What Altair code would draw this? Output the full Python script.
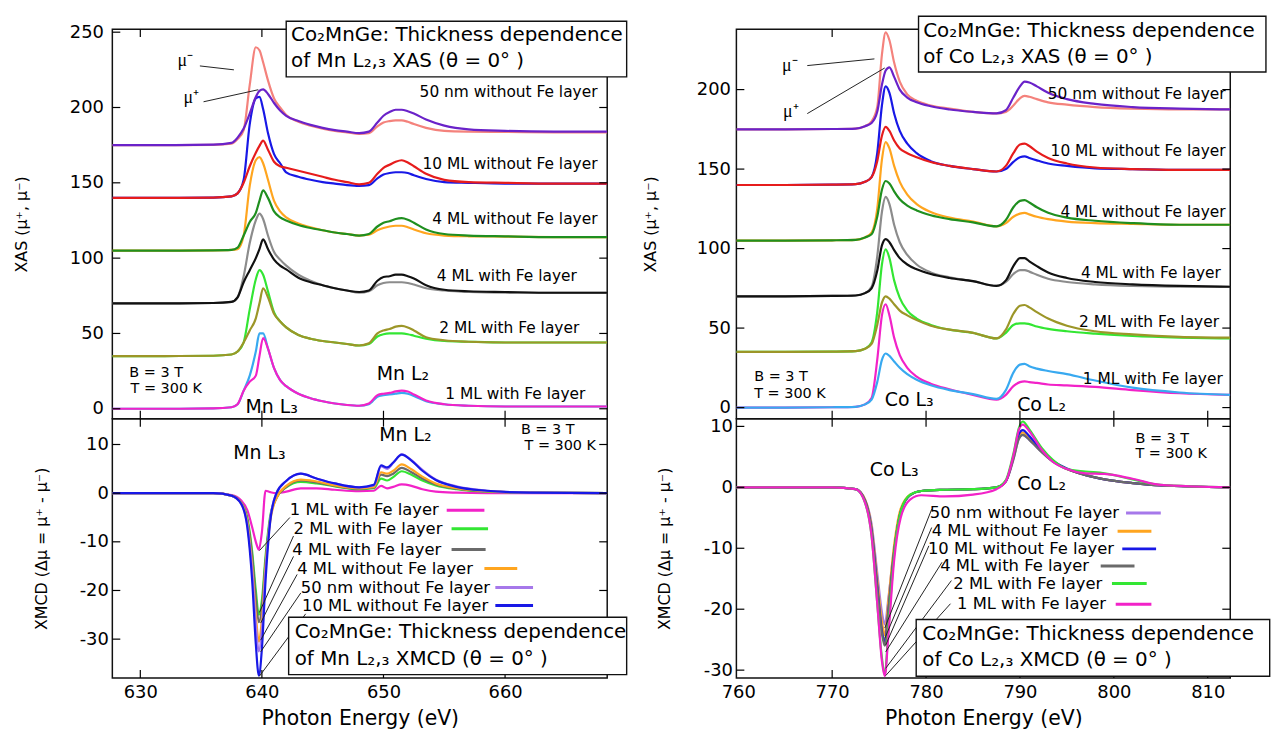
import altair as alt
import pandas as pd

FONT = "DejaVu Sans"

# ---------------- Mn L2,3 XAS (top left) ----------------
E_MN = [627.7, 632, 636, 637.5, 638.0, 638.5, 639.0, 639.5, 639.8, 640.1, 640.5, 641.0, 641.5, 642.0,
        643.0, 644.0, 645.0, 646.0, 647.0, 648.0, 648.8, 649.5, 650.0, 650.5, 651.0, 651.5, 652.0,
        652.5, 653.5, 655.0, 657.0, 660.0, 664.0, 668.4]
MN_SALMON = [175, 175, 175.2, 176, 179, 185, 215, 240, 238, 230, 218, 206, 200, 195, 190.5, 188, 186, 184.5,
             183.5, 182.5, 183, 187.5, 190, 191, 191.5, 191.5, 190.5, 189, 186.5, 184.5, 184, 183.8, 183.5, 183.5]
MN_PURPLE = [175, 175, 175.3, 176.5, 180, 186, 196, 207, 211, 212, 209, 203, 198, 194.5, 191, 188.5, 186.5, 185,
             184, 183, 184, 190, 194.5, 197, 198.5, 198.5, 197.5, 196, 192, 188, 185.5, 184.5, 184, 184]
MN_BLUE = [140, 140, 140.2, 141, 143, 152, 189, 206, 207, 199, 183, 169, 163, 157, 154, 152, 150.5, 149.5,
           148.5, 148, 148.5, 153, 155.5, 156.5, 157, 157, 156.5, 155, 152.5, 150.5, 150, 149.5, 149.5, 149.5]
MN_RED = [140, 140, 140.2, 141, 143, 150, 161, 170, 174.5, 178, 172, 164, 161, 160, 158, 156, 154, 152,
          150.5, 149, 150, 156, 160, 162, 164, 165, 163.5, 161, 156, 152, 150.5, 150, 149.5, 149.5]
MN_ORANGE = [105, 105, 105.2, 105.5, 106, 115, 148, 165, 167, 163, 152, 138, 131, 127, 123, 120.5, 118.5, 117,
             116, 115, 115.5, 118.5, 120, 121, 121.5, 121.5, 120.5, 119, 116.5, 115, 114.5, 114.3, 114, 114]
MN_DGREEN = [105, 105, 105.2, 105.5, 107, 115, 124, 130, 138, 145, 140, 131, 127, 125, 122, 120, 118.5, 117,
             116, 115, 116, 121, 123.5, 124.5, 126, 126.5, 125.5, 123.5, 119, 116, 115, 114.5, 114, 114]
MN_GRAY = [70, 70, 70.2, 71, 74, 88, 110, 125, 129.5, 126, 115, 104, 99, 95, 89, 85, 82, 80,
           78.5, 77, 78, 82, 83.5, 84, 84, 84, 83.5, 82.5, 80, 78.5, 77.5, 77, 77, 77]
MN_BLACK = [70, 70, 70.2, 71, 74, 84, 92, 100, 106, 112.5, 106, 99, 95, 92.5, 87, 84, 82, 80,
            78.5, 77.5, 78.5, 85, 87.5, 88, 89, 89, 88, 86.5, 82, 79, 78, 77.5, 77, 77]
MN_LIME = [35, 35, 35.2, 36, 38, 44, 66, 86, 92, 89, 78, 64, 58, 54, 49, 46.5, 45, 44,
           43, 42, 43, 48, 49.5, 50, 50, 50, 49.5, 48.5, 46.5, 45, 44.5, 44, 44, 44]
MN_OLIVE = [35, 35, 35.2, 36, 38, 44, 52, 60, 70, 80, 74, 63, 58, 54, 49, 46.5, 45, 44,
            43, 42, 43.5, 50, 52, 53, 54.5, 55, 54, 52, 47.5, 45.5, 44.5, 44, 44, 44]
MN_CYAN = [0, 0, 0.2, 1, 3, 12, 22, 38, 50, 50, 40, 27, 19, 15, 10, 7, 5, 3.5,
           2.5, 2, 3, 8, 9, 9.5, 10, 10.5, 10, 8.5, 5, 3, 2, 1.5, 1.5, 1.5]
MN_MAGENTA = [0, 0, 0.2, 1, 3, 12, 18, 22, 35, 47, 40, 27, 19, 15, 10, 7, 5, 3.5,
              2.5, 2, 3.5, 9, 10, 10.5, 11.5, 12, 11.5, 9.5, 5.5, 3, 2, 1.5, 1.5, 1.5]

# ---------------- Co L2,3 XAS (top right) ----------------
E_CO = [759.8, 765, 770, 772.5, 773.5, 774.2, 774.8, 775.3, 775.7, 776.1, 776.6, 777.2, 778.0, 779.0,
        780.5, 782.5, 785, 787.5, 788.5, 789.3, 790.0, 790.5, 791.0, 791.8, 793.0, 795.0, 798.0,
        802.0, 807.0, 812.4]
CO_SALMON = [175, 175, 175.2, 175.5, 177, 180, 189, 222, 236, 231, 217, 205, 197, 193, 190, 188, 186, 185,
             186, 190, 194.5, 196, 195.5, 194, 192, 190.5, 189, 188, 187.5, 187.5]
CO_PURPLE = [175, 175, 175.2, 175.5, 177, 179, 186, 203, 212, 214, 208, 200, 195, 192, 189.5, 187.5, 186, 185,
             187, 195, 202, 205, 204.5, 202, 198, 194, 191, 189, 188, 187.5]
CO_BLUE = [140, 140, 140.2, 140.5, 142, 145, 160, 190, 202, 198, 185, 174, 166, 160, 155, 152, 150, 148.5,
           150, 154.5, 157.5, 158, 157, 155.5, 153.5, 152, 150.5, 150, 149.5, 149.5]
CO_RED = [140, 140, 140.2, 140.5, 142, 145, 155, 171, 176.5, 174, 168, 163, 160, 157.5, 154.5, 152, 150, 148.5,
          152, 160, 165.5, 166, 164.5, 161, 157, 153.5, 151, 150, 149.5, 149.5]
CO_ORANGE = [105, 105, 105.2, 105.5, 107, 110, 125, 156, 167, 163, 152, 142, 134, 128, 123, 119.5, 117, 114,
             116, 120, 122, 122.5, 121.5, 120, 118.5, 117, 116, 115.5, 115, 115]
CO_DGREEN = [105, 105, 105.2, 105.5, 107, 109, 120, 137, 142.5, 141, 136, 131, 127, 124, 121, 118.5, 116.5, 114,
             118, 126, 130, 130.5, 129, 126, 122.5, 119.5, 117.5, 116, 115, 115]
CO_GRAY = [70, 70, 70.2, 70.5, 72, 76, 95, 123, 132.5, 128, 115, 104, 96, 90, 85, 82, 79.5, 76.5,
           79, 84, 86.5, 86.5, 85.5, 83.5, 81, 79, 77.5, 76.5, 76, 76]
CO_BLACK = [70, 70, 70.2, 70.5, 72, 75, 86, 102, 106, 104, 99, 94, 90, 87, 84, 81.5, 79.5, 76.5,
            80, 89, 94, 94, 92, 89, 85, 81.5, 79, 77.5, 76.5, 76]
CO_LIME = [35, 35, 35.2, 35.5, 37, 41, 60, 90, 99.5, 94, 80, 69, 61, 56, 52, 49, 47, 43.5,
           47, 52, 53, 53, 52.5, 51, 49.5, 48, 46.5, 45, 44, 43.5]
CO_OLIVE = [35, 35, 35.2, 35.5, 37, 40, 52, 66, 70, 68.5, 65, 61, 58, 55, 51.5, 49, 47, 43.5,
            49, 59, 64, 64.5, 63, 60, 56, 51.5, 48, 46, 44.5, 44]
CO_MAGENTA = [0, 0, 0.2, 0.5, 2, 6, 30, 58, 65, 58, 44, 33, 25, 19.5, 15, 11.5, 8, 5,
              8, 13.5, 16, 16.5, 16, 15.5, 14.5, 14, 13, 11, 9, 8]
CO_CYAN = [0, 0, 0.2, 0.5, 2, 5, 16, 30, 34, 32.5, 29, 25, 21, 17.5, 14, 11, 8.5, 5.5,
           11, 22, 27, 27.5, 26, 24.5, 23, 21, 17, 12.5, 9.5, 8]

# ---------------- Mn XMCD (bottom left) ----------------
E_MNX = [627.7, 632, 636, 637.5, 638.3, 638.8, 639.2, 639.5, 639.75, 640.0, 640.3, 640.7, 641.2, 642.0,
         643.2, 644.5, 646, 648, 649.2, 649.8, 650.3, 650.8, 651.5, 652.3, 653.2, 654.3, 656, 658.5, 662, 668.4]
MNX_1ML = [0, 0, 0, -0.4, -1.5, -3.5, -7, -10, -11.6, -8, 0.5, 0.2, 0, 0.3, 1, 1, 0.7, 0.4, 0.5, 1.5,
           1, 1.3, 1.8, 1.5, 0.8, 0.3, 0.1, 0, 0, 0]
MNX_2ML = [0, 0, 0, -0.5, -2, -5, -12, -20, -25, -22, -13, -4.5, -0.9, 1.2, 2.3, 2, 1.4, 0.8, 1, 3,
           2.6, 3.3, 4.5, 3.8, 2.6, 1.6, 0.8, 0.3, 0.1, 0]
MNX_4MLW = [0, 0, 0, -0.5, -2, -5.5, -13, -21.5, -26.5, -23.5, -14, -5, -1, 1.3, 2.6, 2.2, 1.5, 0.9, 1.2, 3.8,
            3.5, 4, 5.2, 4.3, 3, 1.8, 0.9, 0.4, 0.1, 0]
MNX_4MLWO = [0, 0, 0, -0.5, -2, -6, -15, -25, -30.5, -26, -15, -5.5, -1, 1.5, 2.8, 2.4, 1.6, 1, 1.3, 4.3,
             4, 4.6, 5.9, 4.9, 3.4, 2, 1, 0.4, 0.1, 0]
MNX_50NM = [0, 0, 0, -0.5, -2.2, -6.5, -16, -27, -32.5, -28, -16, -5, 0, 2.5, 4, 3, 2, 1.2, 1.6, 5.5,
            5, 6.2, 8, 6.8, 4.8, 2.8, 1.4, 0.5, 0.1, 0]
MNX_10ML = [0, 0, 0, -0.5, -2.2, -7, -18, -31, -37.5, -32, -18, -5.5, 0, 2.5, 4, 3, 2, 1.2, 1.7, 5.7,
            5.3, 6.3, 7.9, 6.7, 4.6, 2.7, 1.3, 0.5, 0.1, 0]

# ---------------- Co XMCD (bottom right) ----------------
E_COX = [759.8, 765, 770, 772.5, 773.5, 774.2, 774.8, 775.3, 775.6, 776.0, 776.6, 777.3, 778.3, 779.5,
         782, 785, 787.5, 788.5, 789.3, 789.9, 790.3, 791.0, 792.3, 793.5, 795, 797, 799, 802, 805, 812.4]
COX_50NM = [0, 0, 0, -0.3, -2, -6, -14, -20.5, -22.5, -18, -10, -4, -1.3, -0.6, -0.4, -0.3, 0, 1, 4.5, 8,
            8.6, 7.8, 5.8, 4.2, 3, 2, 1.3, 0.7, 0.3, 0]
COX_4MLWO = [0, 0, 0, -0.3, -2, -6.5, -15, -22, -24.3, -18.5, -9.5, -3.5, -1.2, -0.6, -0.4, -0.3, 0, 1, 4.8, 8.3,
             9, 8, 5.9, 4.3, 3, 2, 1.3, 0.7, 0.3, 0]
COX_10ML = [0, 0, 0, -0.3, -2.2, -7, -16, -23.5, -25.5, -20, -10.5, -4, -1.3, -0.6, -0.4, -0.3, 0, 1, 5, 8.8,
            9.4, 8.4, 6, 4.4, 3.1, 2, 1.3, 0.7, 0.3, 0]
COX_4MLW = [0, 0, 0, -0.3, -2.2, -7, -16.5, -24, -26, -20, -10.5, -4, -1.3, -0.6, -0.4, -0.3, 0, 1, 4.6, 8,
            8.6, 7.8, 5.8, 4.2, 3, 2, 1.3, 0.7, 0.3, 0]
COX_2ML = [0, 0, 0, -0.3, -2.5, -8, -19, -28, -30.8, -23, -11, -4, -1.2, -0.6, -0.4, -0.3, 0, 1.2, 5.5, 9.8,
           10.8, 9.5, 6.5, 4.5, 3, 2.6, 2.3, 1.3, 0.4, 0]
COX_1ML = [0, 0, 0, -0.3, -2.5, -8, -19, -28.5, -31, -24, -12, -5, -2, -1.3, -1.5, -1.2, -0.3, 1, 5.2, 9.5,
           10.3, 9.2, 6.2, 4.2, 3, 2.3, 2.2, 1.4, 0.4, 0]

# tick values
MN_XTICKS = [630, 640, 650, 660]
CO_XTICKS = [770, 780, 790, 800, 810]
CO_XLABELS = [760, 770, 780, 790, 800, 810]
MN_XAS_YTICKS = [0, 50, 100, 150, 200, 250]
CO_XAS_YTICKS = [0, 50, 100, 150, 200]
XMCD_YTICKS = [-30, -20, -10, 0, 10]

# colours
COLORS = {
    "salmon": "#f4827c", "purple": "#6a22c9", "blue": "#1818e6", "red": "#e61c1c",
    "orange": "#ffa51f", "dgreen": "#1f8f1f", "gray": "#8c8c8c", "black": "#111111",
    "lime": "#33e633", "olive": "#9c9628", "cyan": "#38a9f0", "magenta": "#f222c8",
    "dgray": "#6a6a6a", "lpurple": "#a678ea",
}

W_L, W_R, H_T, H_B = 498, 497, 392, 261
MN_XDOM = [627.7, 668.4]
CO_XDOM = [759.8, 812.4]
MN_XAS_YDOM = [-6.6, 252]
CO_XAS_YDOM = [-7, 238]
MN_XMCD_YDOM = [-38, 15.3]
CO_XMCD_YDOM = [-31.3, 11.26]

MINUS_EXPR = "datum.value < 0 ? '-' + abs(datum.value) : '' + datum.value"


def long_df(E, named):
    rows = []
    for name, vals in named:
        assert len(vals) == len(E), (name, len(vals), len(E))
        for e, v in zip(E, vals):
            rows.append({"E": e, "v": v, "s": name, "c": COLORS[name]})
    return pd.DataFrame(rows)


def make_panel(E, named, xdom, ydom, w, h, xticks, yticks, xax, yax, texts, boxes, leaders,
               swatches=None, lw=2.2):
    xs = alt.Scale(domain=xdom, nice=False, zero=False)
    ys = alt.Scale(domain=ydom, nice=False, zero=False)

    def X(f="E"):
        return alt.X(f"{f}:Q", scale=xs, axis=xax)

    def Y(f="v"):
        return alt.Y(f"{f}:Q", scale=ys, axis=yax)

    layers = []
    df = long_df(E, named)
    layers.append(alt.Chart(df).mark_line(strokeWidth=lw, clip=True, interpolate="monotone").encode(
        x=X(), y=Y(), color=alt.Color("c:N", scale=None, legend=None), detail="s:N"))

    # inward ticks
    ydf = pd.DataFrame({"t": yticks})
    xdf = pd.DataFrame({"t": xticks})
    tk = dict(color="black", strokeWidth=1.2)
    layers.append(alt.Chart(ydf).mark_rule(**tk).encode(y=Y("t"), x=alt.value(0), x2=alt.value(8)))
    layers.append(alt.Chart(ydf).mark_rule(**tk).encode(y=Y("t"), x=alt.value(w - 8), x2=alt.value(w)))
    layers.append(alt.Chart(xdf).mark_rule(**tk).encode(x=X("t"), y=alt.value(0), y2=alt.value(8)))
    layers.append(alt.Chart(xdf).mark_rule(**tk).encode(x=X("t"), y=alt.value(h - 8), y2=alt.value(h)))

    if leaders:
        ldf = pd.DataFrame(leaders, columns=["E", "v", "E2", "v2"])
        layers.append(alt.Chart(ldf).mark_rule(color="#222222", strokeWidth=1).encode(
            x=X(), y=Y(), x2=alt.X2("E2:Q"), y2=alt.Y2("v2:Q")))
    if swatches:
        sdf = pd.DataFrame(swatches, columns=["E", "E2", "v", "s"])
        sdf["c"] = [COLORS[s] for s in sdf["s"]]
        layers.append(alt.Chart(sdf).mark_rule(strokeWidth=3).encode(
            x=X(), x2=alt.X2("E2:Q"), y=Y(), color=alt.Color("c:N", scale=None, legend=None)))
    for b in boxes:
        bdf = pd.DataFrame([b], columns=["E", "E2", "v", "v2"])
        layers.append(alt.Chart(bdf).mark_rect(fill="white", stroke="#111111", strokeWidth=1.4).encode(
            x=X(), x2=alt.X2("E2:Q"), y=Y(), y2=alt.Y2("v2:Q")))
    for style, rows in texts:
        tdf = pd.DataFrame(rows, columns=["t", "E", "v"])
        layers.append(alt.Chart(tdf).mark_text(**style).encode(x=X(), y=Y(), text="t:N"))
    return alt.layer(*layers).properties(width=w, height=h)


def yaxis(values, title, tx, pad):
    return alt.Axis(values=values, title=title, labelFontSize=18, ticks=False, domain=False, grid=False,
                    labelPadding=pad, titleFontSize=16, titleFontWeight="normal", titleX=tx,
                    titleBaseline="middle", labelExpr=MINUS_EXPR)


def xaxis(values):
    return alt.Axis(values=values, title="Photon Energy (eV)", labelFontSize=18, ticks=False, domain=False,
                    grid=False, labelPadding=6, titleFontSize=20.5, titleFontWeight="normal", titlePadding=7)


S_SAMPLE = dict(align="right", baseline="middle", fontSize=15.5, font=FONT)
S_COND = dict(align="left", baseline="middle", fontSize=14.5, font=FONT)
S_EDGE = dict(align="center", baseline="middle", fontSize=19, font=FONT)
S_BOX = dict(align="left", baseline="middle", fontSize=20, font=FONT)
S_MU = dict(align="center", baseline="middle", fontSize=18, font="Liberation Serif")
S_LEG = dict(align="left", baseline="middle", fontSize=16.5, font=FONT)

# ---- top left ----
TL = make_panel(
    E_MN,
    [("salmon", MN_SALMON), ("blue", MN_BLUE), ("orange", MN_ORANGE), ("gray", MN_GRAY), ("lime", MN_LIME),
     ("cyan", MN_CYAN), ("purple", MN_PURPLE), ("red", MN_RED), ("dgreen", MN_DGREEN), ("black", MN_BLACK),
     ("olive", MN_OLIVE), ("magenta", MN_MAGENTA)],
    MN_XDOM, MN_XAS_YDOM, W_L, H_T, MN_XTICKS, MN_XAS_YTICKS, None,
    yaxis(MN_XAS_YTICKS, "XAS (μ⁺, μ⁻)", -91, 9),
    [(S_SAMPLE, [("50 nm without Fe layer", 667.6, 210.4), ("10 ML without Fe layer", 667.6, 162.3),
                 ("4 ML without Fe layer", 667.6, 126), ("4 ML with Fe layer", 665.9, 87.8),
                 ("2 ML with Fe layer", 666.1, 53.5), ("1 ML with Fe layer", 666.6, 9.9)]),
     (S_COND, [("B = 3 T", 629.1, 23.8), ("T = 300 K", 629.2, 13.2)]),
     (S_EDGE, [("Mn L₃", 640.8, 1.4), ("Mn L₂", 651.6, 23.2)]),
     (S_BOX, [("Co₂MnGe: Thickness dependence", 642.4, 248.0), ("of Mn L₂,₃ XAS (θ = 0°  )", 642.4, 230.9)]),
     (S_MU, [("μ⁻", 633.7, 230.9), ("μ⁺", 634.2, 206.5)])],
    [(642.0, 670.0, 220.3, 257.3)],
    [(634.9, 227.6, 637.7, 225.0), (635.2, 203.8, 639.7, 211.8)],
)

# ---- bottom left ----
BL = make_panel(
    E_MNX,
    [("magenta", MNX_1ML), ("lime", MNX_2ML), ("dgray", MNX_4MLW), ("orange", MNX_4MLWO),
     ("lpurple", MNX_50NM), ("blue", MNX_10ML)],
    MN_XDOM, MN_XMCD_YDOM, W_L, H_B, MN_XTICKS, XMCD_YTICKS, xaxis(MN_XTICKS),
    yaxis(XMCD_YTICKS, "XMCD (Δμ = μ⁺ - μ⁻)", -71, 4),
    [(S_EDGE, [("Mn L₃", 639.8, 8.2), ("Mn L₂", 651.8, 12.0)]),
     (S_COND, [("B = 3 T", 661.3, 12.9), ("T = 300 K", 661.6, 9.6)]),
     (S_LEG, [("1 ML with Fe layer", 642.3, -3.5), ("2 ML with Fe layer", 642.6, -7.3),
              ("4 ML with Fe layer", 642.5, -11.6), ("4 ML without Fe layer", 642.9, -15.5),
              ("50 nm without Fe layer", 643.2, -19.4), ("10 ML without Fe layer", 643.3, -23.1)]),
     (S_BOX, [("Co₂MnGe: Thickness dependence", 642.7, -28.6), ("of Mn L₂,₃ XMCD (θ = 0°  )", 642.7, -34.1)])],
    [(642.2, 670.0, -37.3, -25.5)],
    [(642.3, -5.0, 639.8, -11.8), (642.6, -8.8, 639.8, -24.5), (642.6, -13.0, 639.9, -26.7),
     (642.9, -16.7, 639.9, -30.2), (643.2, -20.5, 639.9, -32.6), (643.6, -24.8, 639.8, -37.6)],
    swatches=[(655.2, 658.3, -3.5, "magenta"), (655.6, 658.6, -7.3, "lime"), (655.6, 658.4, -11.6, "dgray"),
              (658.3, 661.0, -15.5, "orange"), (659.2, 662.3, -19.4, "lpurple"), (659.2, 662.3, -23.1, "blue")],
)

# ---- top right ----
TR = make_panel(
    E_CO,
    [("salmon", CO_SALMON), ("blue", CO_BLUE), ("orange", CO_ORANGE), ("gray", CO_GRAY), ("lime", CO_LIME),
     ("magenta", CO_MAGENTA), ("purple", CO_PURPLE), ("red", CO_RED), ("dgreen", CO_DGREEN),
     ("black", CO_BLACK), ("olive", CO_OLIVE), ("cyan", CO_CYAN)],
    CO_XDOM, CO_XAS_YDOM, W_R, H_T, CO_XTICKS, CO_XAS_YTICKS, None,
    yaxis(CO_XAS_YTICKS, "XAS (μ⁺, μ⁻)", -86, 6),
    [(S_SAMPLE, [("50 nm without Fe layer", 811.9, 197.4), ("10 ML without Fe layer", 811.9, 161.1),
                 ("4 ML without Fe layer", 811.9, 123), ("4 ML with Fe layer", 811.4, 84.9),
                 ("2 ML with Fe layer", 811.2, 53.6), ("1 ML with Fe layer", 811.6, 18)]),
     (S_COND, [("B = 3 T", 761.7, 19.3), ("T = 300 K", 761.7, 8.6)]),
     (S_EDGE, [("Co L₃", 778.2, 4.9), ("Co L₂", 792.3, 1.75)]),
     (S_BOX, [("Co₂MnGe: Thickness dependence", 779.7, 236.8), ("of Co L₂,₃ XAS (θ = 0°  )", 779.7, 220.5)]),
     (S_MU, [("μ⁻", 765.5, 214.9), ("μ⁺", 765.6, 186.1)])],
    [(779.2, 816.2, 211.1, 246.1)],
    [(767.35, 215.1, 774.5, 219.3), (767.35, 184.9, 775.6, 213.6)],
)

# ---- bottom right ----
BR = make_panel(
    E_COX,
    [("lpurple", COX_50NM), ("orange", COX_4MLWO), ("blue", COX_10ML), ("dgray", COX_4MLW),
     ("lime", COX_2ML), ("magenta", COX_1ML)],
    CO_XDOM, CO_XMCD_YDOM, W_R, H_B, CO_XTICKS, XMCD_YTICKS, xaxis(CO_XLABELS),
    yaxis(XMCD_YTICKS, "XMCD (Δμ = μ⁺ - μ⁻)", -72, 4),
    [(S_EDGE, [("Co L₃", 776.6, 2.8), ("Co L₂", 792.3, 0.5)]),
     (S_COND, [("B = 3 T", 802.3, 8.0), ("T = 300 K", 802.3, 5.4)]),
     (S_LEG, [("50 nm without Fe layer", 780.4, -4.2), ("4 ML without Fe layer", 780.6, -7.2),
              ("10 ML without Fe layer", 780.2, -10.1), ("4 ML with Fe layer", 781.5, -12.9),
              ("2 ML with Fe layer", 782.9, -15.8), ("1 ML with Fe layer", 783.3, -19.2)]),
     (S_BOX, [("Co₂MnGe: Thickness dependence", 779.6, -24.0), ("of Co L₂,₃ XMCD (θ = 0°  )", 779.6, -28.4)])],
    [(778.95, 816.6, -31.0, -21.7)],
    [(780.6, -3.6, 775.6, -23.1), (780.6, -6.6, 775.6, -24.8), (780.3, -9.6, 775.7, -25.9),
     (781.7, -12.3, 775.7, -27.0), (782.7, -15.3, 775.7, -29.7), (782.6, -19.1, 775.7, -30.9)],
    swatches=[(801.3, 805.0, -4.2, "lpurple"), (800.4, 804.0, -7.2, "orange"), (800.9, 804.5, -10.1, "blue"),
              (798.6, 802.2, -12.9, "dgray"), (799.8, 803.5, -15.8, "lime"), (800.2, 804.0, -19.2, "magenta")],
)

chart = (
    alt.concat(TL, TR, BL, BR, columns=2, spacing=alt.RowColnumber(row=0, column=130), bounds="flush")
    .properties(padding={"left": 5, "top": 4, "right": 0, "bottom": 4}, background="white")
    .configure_view(stroke="#111111", strokeWidth=1.5)
    .configure_axis(labelFont=FONT, titleFont=FONT, labelColor="black", titleColor="black")
    .configure_text(font=FONT, color="black")
)

chart.save("out.html", embed_options={"renderer": "svg", "actions": False})
